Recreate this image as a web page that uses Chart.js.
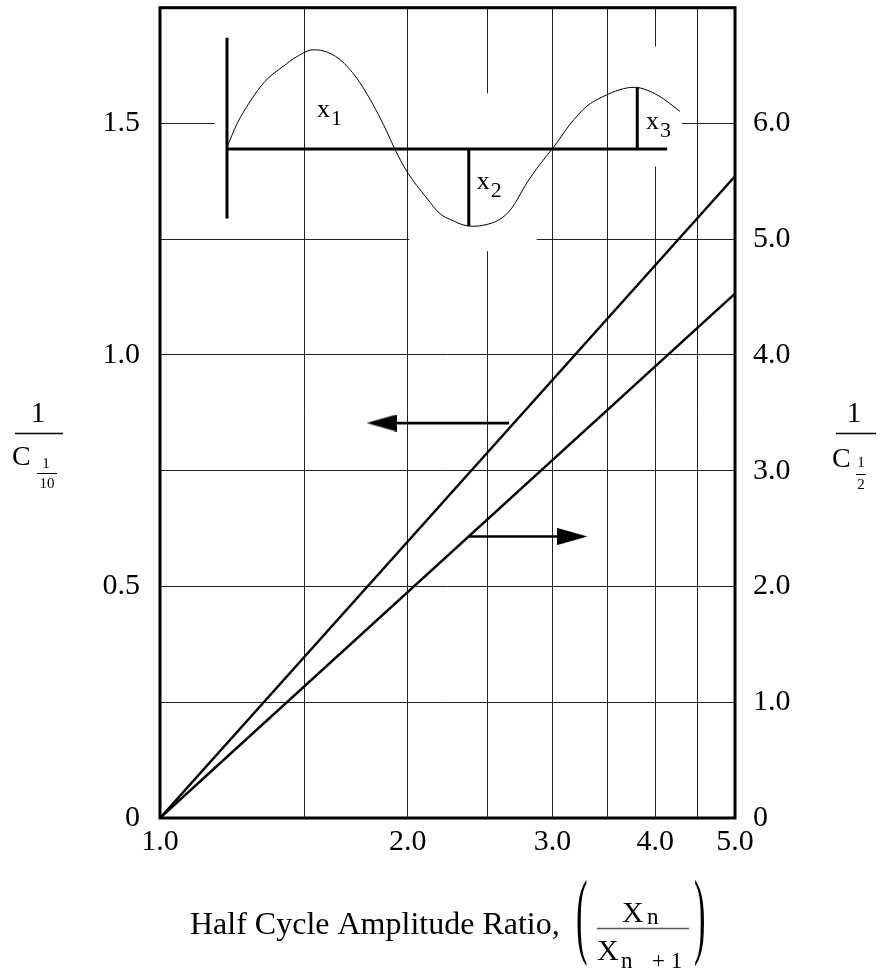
<!DOCTYPE html>
<html>
<head>
<meta charset="utf-8">
<script src="https://cdn.jsdelivr.net/npm/chart.js@4.4.1/dist/chart.umd.min.js"></script>
<style>
  html, body { margin: 0; padding: 0; background: #fff; }
</style>
</head>
<body>
<canvas id="chart" width="881" height="975"></canvas>
<script>
// x axis (log): half cycle amplitude ratio
var xTicks = [1.0, 1.5, 2.0, 2.5, 3.0, 3.5, 4.0, 4.5, 5.0];
var xLabels = ['1.0', '', '2.0', '', '3.0', '', '4.0', '', '5.0'];
var yTicks = [0, 0.25, 0.5, 0.75, 1.0, 1.25, 1.5, 1.75];
var leftLabels = ['0', '', '0.5', '', '1.0', '', '1.5', ''];
var rightLabels = ['0', '1.0', '2.0', '3.0', '4.0', '5.0', '6.0', ''];

// the two curves
var ratio = [1.0, 5.0];
var invC10 = [0, 1.386];   // 1/C(1/10), left axis
var invC2 = [0, 4.53];     // 1/C(1/2), right axis

// arrows (x = ratio, y = left axis value)
var arrowLeftX = [1.859, 2.657];
var arrowLeftY = 0.853;
var arrowRightX = [2.368, 3.172];
var arrowRightY = 0.608;

// inset sketch: t is a 0..100 position across the plot, a on the left axis
var waveT = [11.6, 13.34, 15.65, 18.26, 21.39, 23.77, 26.61, 28.35, 31.30, 34.21, 37.04, 39.43, 40.87,
  42.90, 46.38, 48.70, 50.96, 52.70, 54.4, 56.17, 59.13, 61.17, 63.77, 66.09, 68.35, 71.30, 74.21,
  77.04, 80.0, 82.26, 84.0, 86.96, 90.43];
var waveA = [1.447, 1.498, 1.547, 1.591, 1.623, 1.644, 1.659, 1.657, 1.638, 1.598, 1.541, 1.483, 1.444,
  1.397, 1.339, 1.305, 1.290, 1.281, 1.278, 1.280, 1.293, 1.317, 1.371, 1.412, 1.447, 1.498, 1.537,
  1.558, 1.573, 1.578, 1.575, 1.558, 1.526];
var baseT = [11.65, 88.2];
var baseA = 1.445;
var stemT = 11.65;
var stemA = [1.295, 1.685];
var x2T = 53.7;
var x2A = [1.445, 1.278];
var x3T = 83.0;
var x3A = [1.445, 1.578];
var insetLabels = [
  { t: 27.3, a: 1.515, sub: '1' },
  { t: 55.1, a: 1.358, sub: '2' },
  { t: 84.5, a: 1.487, sub: '3' }
];

// grid line pieces hidden behind the inset
var gridGaps = [
  { axis: 'y', value: 1.5, from: 1.166, to: 4.31 },
  { axis: 'y', value: 1.25, from: 2.01, to: 2.87 },
  { axis: 'x', value: 2.5, from: 1.224, to: 1.565 },
  { axis: 'x', value: 4.0, from: 1.407, to: 1.666 }
];

var serif = "'Liberation Serif', 'Times New Roman', serif";

function pts(xs, ys) {
  var out = [];
  for (var i in xs) {
    out.push({ x: xs[i], y: Array.isArray(ys) ? ys[i] : ys });
  }
  return out;
}

function makeHead() {
  var c = document.createElement('canvas');
  c.width = 30;
  c.height = 17;
  var g = c.getContext('2d');
  g.fillStyle = '#000';
  g.beginPath();
  g.moveTo(0, 0);
  g.lineTo(30, 8.5);
  g.lineTo(0, 17);
  g.closePath();
  g.fill();
  return c;
}
var head = makeHead();

function align(p) {
  return Math.round(p - 0.5) + 0.5;
}

function inGap(axis, value, other) {
  for (var i in gridGaps) {
    var g = gridGaps[i];
    if (g.axis === axis && Math.abs(g.value - value) < 1e-6 && other > g.from && other < g.to) return true;
  }
  return false;
}

var gapPlugin = {
  id: 'gaps',
  beforeDatasetsDraw: function(chart) {
    var ctx = chart.ctx, sx = chart.scales.x, sy = chart.scales.y;
    ctx.save();
    ctx.lineWidth = 3;
    gridGaps.forEach(function(g) {
      ctx.strokeStyle = '#fff';
      ctx.beginPath();
      if (g.axis === 'y') {
        var py = align(sy.getPixelForValue(g.value));
        ctx.moveTo(sx.getPixelForValue(g.from), py);
        ctx.lineTo(sx.getPixelForValue(g.to), py);
      } else {
        var px = align(sx.getPixelForValue(g.value));
        ctx.moveTo(px, sy.getPixelForValue(g.from));
        ctx.lineTo(px, sy.getPixelForValue(g.to));
      }
      ctx.stroke();
    });
    // put back the crossing grid lines that the white strokes cut
    ctx.lineWidth = 1;
    ctx.strokeStyle = '#222';
    gridGaps.forEach(function(g) {
      if (g.axis === 'y') {
        var py = align(sy.getPixelForValue(g.value));
        xTicks.forEach(function(v) {
          if (v > g.from && v < g.to && !inGap('x', v, g.value)) {
            var px = align(sx.getPixelForValue(v));
            ctx.beginPath();
            ctx.moveTo(px, py - 3);
            ctx.lineTo(px, py + 3);
            ctx.stroke();
          }
        });
      } else {
        var px = align(sx.getPixelForValue(g.value));
        yTicks.forEach(function(v) {
          if (v > g.from && v < g.to && !inGap('y', v, g.value)) {
            var py = align(sy.getPixelForValue(v));
            ctx.beginPath();
            ctx.moveTo(px - 3, py);
            ctx.lineTo(px + 3, py);
            ctx.stroke();
          }
        });
      }
    });
    ctx.restore();
  },
  afterDatasetsDraw: function(chart) {
    var ctx = chart.ctx, a = chart.chartArea;
    ctx.save();
    ctx.strokeStyle = '#000';
    ctx.lineWidth = 3;
    ctx.strokeRect(a.left, a.top, a.right - a.left, a.bottom - a.top);

    // inset labels x1, x2, x3
    var ix = chart.scales.ix, sy = chart.scales.y;
    ctx.fillStyle = '#000';
    ctx.textAlign = 'left';
    ctx.textBaseline = 'alphabetic';
    insetLabels.forEach(function(l) {
      var px = ix.getPixelForValue(l.t), py = sy.getPixelForValue(l.a);
      ctx.font = '26px ' + serif;
      ctx.fillText('x', px, py);
      var w = ctx.measureText('x').width;
      ctx.font = '22px ' + serif;
      ctx.fillText(l.sub, px + w + 1, py + 8);
    });
    ctx.restore();
  },
  afterDraw: function(chart) {
    var ctx = chart.ctx;
    ctx.save();
    ctx.fillStyle = '#000';
    ctx.strokeStyle = '#000';
    ctx.textBaseline = 'alphabetic';

    function frac(cx, barY, w, lw) {
      ctx.lineWidth = lw;
      ctx.beginPath();
      ctx.moveTo(cx - w / 2, barY);
      ctx.lineTo(cx + w / 2, barY);
      ctx.stroke();
    }

    // left title 1 / C_(1/10)
    ctx.textAlign = 'center';
    ctx.font = '29px ' + serif;
    ctx.fillText('1', 38, 422);
    frac(39, 433.5, 48, 1.5);
    ctx.textAlign = 'left';
    ctx.font = '28px ' + serif;
    ctx.fillText('C', 12, 465);
    ctx.textAlign = 'center';
    ctx.font = '15px ' + serif;
    ctx.fillText('1', 46, 468);
    frac(47, 473.5, 20, 1);
    ctx.fillText('10', 47, 488);

    // right title 1 / C_(1/2)
    ctx.font = '29px ' + serif;
    ctx.fillText('1', 854, 422);
    frac(856, 433.5, 40, 1.5);
    ctx.textAlign = 'left';
    ctx.font = '28px ' + serif;
    ctx.fillText('C', 832, 467);
    ctx.textAlign = 'center';
    ctx.font = '15px ' + serif;
    ctx.fillText('1', 861, 467);
    frac(861, 474.5, 10, 1);
    ctx.fillText('2', 861, 489);

    // bottom title
    ctx.textAlign = 'left';
    ctx.font = '32px ' + serif;
    ctx.fillText('Half Cycle Amplitude Ratio,', 190, 934);
    ctx.font = '30px ' + serif;
    ctx.fillText('X', 622, 922);
    ctx.fillText('X', 597, 960);
    ctx.font = '23px ' + serif;
    ctx.fillText('n', 647, 924);
    ctx.fillText('n', 621, 968);
    ctx.fillText('+ 1', 652, 968);
    ctx.strokeStyle = '#555';
    frac(643, 928.5, 92, 1.5);

    // tall parentheses
    ctx.font = '30px ' + serif;
    var m = ctx.measureText('(');
    var k = 88 / (m.actualBoundingBoxAscent + m.actualBoundingBoxDescent);
    [['(', 576], [')', 694]].forEach(function(p) {
      ctx.save();
      ctx.translate(p[1], 968 - m.actualBoundingBoxDescent * k);
      ctx.scale(1.15, k);
      ctx.fillText(p[0], 0, 0);
      ctx.restore();
    });
    ctx.restore();
  }
};

var lineStyle = { borderColor: '#000', backgroundColor: '#000', fill: false, pointRadius: 0, tension: 0 };

function ds(extra) {
  return Object.assign({}, lineStyle, extra);
}

var chartdata = {
  datasets: [
    ds({ label: '1/C 1/10', data: pts(ratio, invC10), borderWidth: 2.5, yAxisID: 'y' }),
    ds({ label: '1/C 1/2', data: pts(ratio, invC2), borderWidth: 2.5, yAxisID: 'y2' }),
    ds({ label: 'arrow left', data: pts(arrowLeftX, arrowLeftY), borderWidth: 2.7,
      pointStyle: [head, 'circle'], pointRadius: [5, 0], pointRotation: [180, 0] }),
    ds({ label: 'arrow right', data: pts(arrowRightX, arrowRightY), borderWidth: 2.7,
      pointStyle: ['circle', head], pointRadius: [0, 5], pointRotation: [0, 0] }),
    ds({ label: 'wave', data: pts(waveT, waveA), xAxisID: 'ix', borderWidth: 1, cubicInterpolationMode: 'monotone' }),
    ds({ label: 'base', data: pts(baseT, baseA), xAxisID: 'ix', borderWidth: 3 }),
    ds({ label: 'stem', data: pts([stemT, stemT], stemA), xAxisID: 'ix', borderWidth: 3 }),
    ds({ label: 'x2', data: pts([x2T, x2T], x2A), xAxisID: 'ix', borderWidth: 3 }),
    ds({ label: 'x3', data: pts([x3T, x3T], x3A), xAxisID: 'ix', borderWidth: 3 })
  ]
};

var tickFont = { family: serif, size: 30 };

var ctx = document.getElementById('chart');
var LineGraph = new Chart(ctx, {
  type: 'line',
  data: chartdata,
  plugins: [gapPlugin],
  options: {
    responsive: false,
    animation: false,
    layout: { padding: { top: 7 } },
    plugins: { legend: { display: false }, tooltip: { enabled: false } },
    scales: {
      x: {
        type: 'logarithmic',
        position: 'bottom',
        min: 1,
        max: 5,
        afterBuildTicks: function(s) {
          s.ticks = xTicks.map(function(v) { return { value: v }; });
        },
        afterFit: function(s) { s.height = 157; s.paddingLeft = 0; s.paddingRight = 0; },
        grid: { color: '#222', lineWidth: 1, drawTicks: false },
        border: { display: false },
        ticks: {
          autoSkip: false, maxRotation: 0, padding: 6, color: '#000', font: tickFont,
          callback: function(v, i) { return xLabels[i]; }
        }
      },
      ix: { type: 'linear', display: false, min: 0, max: 100, position: 'bottom' },
      y: {
        type: 'linear',
        position: 'left',
        min: 0,
        max: 1.75,
        afterBuildTicks: function(s) {
          s.ticks = yTicks.map(function(v) { return { value: v }; });
        },
        afterFit: function(s) { s.width = 160; s.paddingTop = 0; s.paddingBottom = 0; },
        grid: { color: '#222', lineWidth: 1, drawTicks: false },
        border: { display: false },
        ticks: {
          padding: 20, color: '#000', font: tickFont,
          callback: function(v, i) { return leftLabels[i]; }
        }
      },
      y2: {
        type: 'linear',
        position: 'right',
        min: 0,
        max: 7,
        afterFit: function(s) { s.width = 146; s.paddingTop = 0; s.paddingBottom = 0; },
        grid: { display: false, drawTicks: false },
        border: { display: false },
        ticks: {
          stepSize: 1, padding: 18, color: '#000', font: tickFont,
          callback: function(v, i) { return rightLabels[i]; }
        }
      }
    }
  }
});
</script>
</body>
</html>
